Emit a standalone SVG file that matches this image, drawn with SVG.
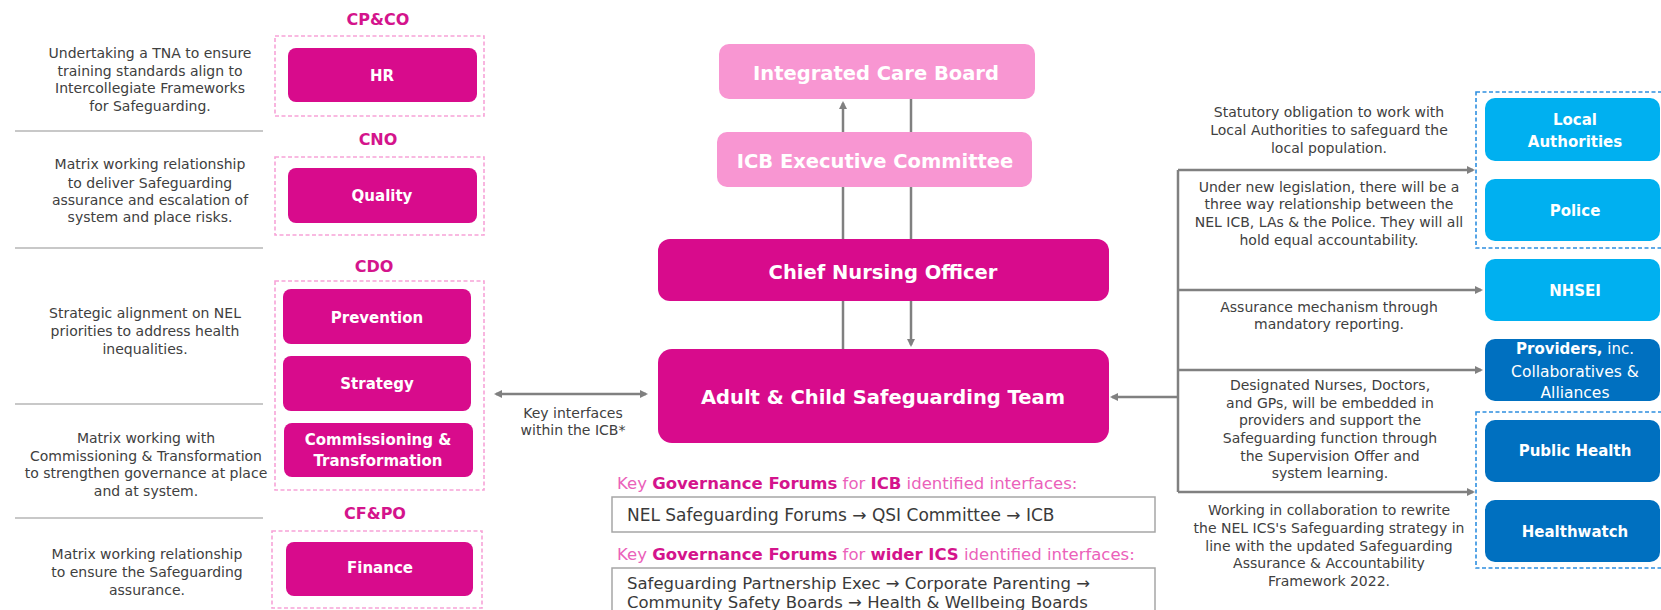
<svg xmlns="http://www.w3.org/2000/svg" width="1661" height="610" viewBox="0 0 1661 610">
<style>
  text { font-family: "DejaVu Sans", "Liberation Sans", sans-serif; }
  .body { font-size: 14px; fill: #404040; text-anchor: middle; }
  .grp { font-size: 16px; font-weight: bold; fill: #D4148C; text-anchor: middle; }
  .lbl { font-size: 15px; font-weight: bold; fill: #ffffff; text-anchor: middle; }
  .lblr { font-size: 15.5px; font-weight: normal; fill: #ffffff; text-anchor: middle; }
  .reg { font-weight: normal; }
  .hdr { font-size: 19.5px; font-weight: bold; fill: #ffffff; text-anchor: middle; }
  .mag { fill: #D80B8C; }
  .pink { fill: #F896D2; }
  .lblue { fill: #00B0F0; }
  .dblue { fill: #0070C0; }
  .pdash { fill: none; stroke: #F7A3D8; stroke-width: 1.6; stroke-dasharray: 4 2.5; }
  .bdash { fill: none; stroke: #2E8FE0; stroke-width: 1.6; stroke-dasharray: 4 2.5; }
  .sep { stroke: #C8C8C8; stroke-width: 2; }
  .con { fill: none; stroke: #808080; stroke-width: 2.5; }
  .gbox { fill: #ffffff; stroke: #A6A6A6; stroke-width: 1.5; }
  .gtxt { font-size: 16.5px; fill: #3A3A3A; }
  .gtxt1 { font-size: 17px; fill: #3A3A3A; }
  .kg { font-size: 16.5px; }
  .kl { fill: #EB61BA; }
  .kb { fill: #D4148C; font-weight: bold; }
</style>
<defs>
  <marker id="ah" viewBox="0 0 8 8" refX="6" refY="4" markerWidth="8" markerHeight="8" markerUnits="userSpaceOnUse" orient="auto-start-reverse">
    <path d="M0,0 L8,4 L0,8 z" fill="#808080"/>
  </marker>
</defs>

<!-- separators on the left -->
<g id="separators">
  <line class="sep" x1="15" y1="131" x2="263" y2="131"/>
  <line class="sep" x1="15" y1="248" x2="263" y2="248"/>
  <line class="sep" x1="15" y1="404" x2="263" y2="404"/>
  <line class="sep" x1="15" y1="518" x2="263" y2="518"/>
</g>

<!-- connectors -->
<g id="connectors">
  <path class="con" d="M843,349 L843,103" marker-end="url(#ah)"/>
  <path class="con" d="M911,99 L911,345" marker-end="url(#ah)"/>
  <path class="con" d="M496,394 L646,394" marker-start="url(#ah)" marker-end="url(#ah)"/>
  <path class="con" d="M1178,170 L1178,492"/>
  <path class="con" d="M1178,397 L1112,397" marker-end="url(#ah)"/>
  <path class="con" d="M1178,170 L1473,170" marker-end="url(#ah)"/>
  <path class="con" d="M1178,290 L1481,290" marker-end="url(#ah)"/>
  <path class="con" d="M1178,370 L1481,370" marker-end="url(#ah)"/>
  <path class="con" d="M1178,492 L1473,492" marker-end="url(#ah)"/>
</g>

<!-- left descriptions -->
<g id="desc-hr">
  <text class="body" x="150" y="58">Undertaking a TNA to ensure</text>
  <text class="body" x="150" y="76">training standards align to</text>
  <text class="body" x="150" y="93">Intercollegiate Frameworks</text>
  <text class="body" x="150" y="111">for Safeguarding.</text>
</g>
<g id="desc-quality">
  <text class="body" x="150" y="169">Matrix working relationship</text>
  <text class="body" x="150" y="188">to deliver Safeguarding</text>
  <text class="body" x="150" y="205">assurance and escalation of</text>
  <text class="body" x="150" y="222">system and place risks.</text>
</g>
<g id="desc-cdo">
  <text class="body" x="145" y="318">Strategic alignment on NEL</text>
  <text class="body" x="145" y="336">priorities to address health</text>
  <text class="body" x="145" y="354">inequalities.</text>
</g>
<g id="desc-ct">
  <text class="body" x="146" y="443">Matrix working with</text>
  <text class="body" x="146" y="461">Commissioning &amp; Transformation</text>
  <text class="body" x="146" y="478">to strengthen governance at place</text>
  <text class="body" x="146" y="496">and at system.</text>
</g>
<g id="desc-finance">
  <text class="body" x="147" y="559">Matrix working relationship</text>
  <text class="body" x="147" y="577">to ensure the Safeguarding</text>
  <text class="body" x="147" y="595">assurance.</text>
</g>

<!-- left groups -->
<g id="group-cpco">
  <text class="grp" x="378" y="25">CP&amp;CO</text>
  <rect class="pdash" x="275" y="36" width="209" height="80"/>
</g>
<g id="node-hr">
  <rect class="mag" x="288" y="48" width="189" height="54" rx="8"/>
  <text class="lbl" x="382" y="81">HR</text>
</g>
<g id="group-cno">
  <text class="grp" x="378" y="145">CNO</text>
  <rect class="pdash" x="275" y="157" width="209" height="78"/>
</g>
<g id="node-quality">
  <rect class="mag" x="288" y="168" width="189" height="55" rx="8"/>
  <text class="lbl" x="382" y="201">Quality</text>
</g>
<g id="group-cdo">
  <text class="grp" x="374" y="272">CDO</text>
  <rect class="pdash" x="275" y="281" width="209" height="209"/>
</g>
<g id="node-prevention">
  <rect class="mag" x="283" y="289" width="188" height="55" rx="8"/>
  <text class="lbl" x="377" y="323">Prevention</text>
</g>
<g id="node-strategy">
  <rect class="mag" x="283" y="356" width="188" height="55" rx="8"/>
  <text class="lbl" x="377" y="389">Strategy</text>
</g>
<g id="node-commissioning">
  <rect class="mag" x="284" y="423" width="189" height="54" rx="8"/>
  <text class="lbl" x="378" y="445">Commissioning &amp;</text>
  <text class="lbl" x="378" y="466">Transformation</text>
</g>
<g id="group-cfpo">
  <text class="grp" x="375" y="519">CF&amp;PO</text>
  <rect class="pdash" x="272" y="531" width="210" height="77"/>
</g>
<g id="node-finance">
  <rect class="mag" x="286" y="542" width="187" height="54" rx="8"/>
  <text class="lbl" x="380" y="573">Finance</text>
</g>

<!-- centre column -->
<g id="node-icb">
  <rect class="pink" x="719" y="44" width="316" height="55" rx="10"/>
  <text class="hdr" x="876" y="80">Integrated Care Board</text>
</g>
<g id="node-icb-exec">
  <rect class="pink" x="717" y="132" width="315" height="55" rx="10"/>
  <text class="hdr" x="875" y="168">ICB Executive Committee</text>
</g>
<g id="node-cno">
  <rect class="mag" x="658" y="239" width="451" height="62" rx="12"/>
  <text class="hdr" x="883" y="279">Chief Nursing Officer</text>
</g>
<g id="node-team">
  <rect class="mag" x="658" y="349" width="451" height="94" rx="14"/>
  <text class="hdr" x="883" y="404">Adult &amp; Child Safeguarding Team</text>
</g>
<g id="label-key-interfaces">
  <text class="body" x="573" y="418">Key interfaces</text>
  <text class="body" x="573" y="435">within the ICB*</text>
</g>

<!-- governance forums -->
<g id="forums-icb">
  <text class="kg" x="617" y="489"><tspan class="kl">Key </tspan><tspan class="kb">Governance Forums</tspan><tspan class="kl"> for </tspan><tspan class="kb">ICB</tspan><tspan class="kl"> identified interfaces:</tspan></text>
  <rect class="gbox" x="612" y="497" width="543" height="35"/>
  <text class="gtxt1" x="627" y="521">NEL Safeguarding Forums → QSI Committee → ICB</text>
</g>
<g id="forums-ics">
  <text class="kg" x="617" y="560"><tspan class="kl">Key </tspan><tspan class="kb">Governance Forums</tspan><tspan class="kl"> for </tspan><tspan class="kb">wider ICS</tspan><tspan class="kl"> identified interfaces:</tspan></text>
  <rect class="gbox" x="612" y="568" width="543" height="60"/>
  <text class="gtxt" x="627" y="589">Safeguarding Partnership Exec → Corporate Parenting →</text>
  <text class="gtxt" x="627" y="608">Community Safety Boards → Health &amp; Wellbeing Boards</text>
</g>

<!-- right descriptions -->
<g id="desc-statutory">
  <text class="body" x="1329" y="117">Statutory obligation to work with</text>
  <text class="body" x="1329" y="135">Local Authorities to safeguard the</text>
  <text class="body" x="1329" y="153">local population.</text>
</g>
<g id="desc-legislation">
  <text class="body" x="1329" y="192">Under new legislation, there will be a</text>
  <text class="body" x="1329" y="209">three way relationship between the</text>
  <text class="body" x="1329" y="227">NEL ICB, LAs &amp; the Police. They will all</text>
  <text class="body" x="1329" y="245">hold equal accountability.</text>
</g>
<g id="desc-assurance">
  <text class="body" x="1329" y="312">Assurance mechanism through</text>
  <text class="body" x="1329" y="329">mandatory reporting.</text>
</g>
<g id="desc-designated">
  <text class="body" x="1330" y="390">Designated Nurses, Doctors,</text>
  <text class="body" x="1330" y="408">and GPs, will be embedded in</text>
  <text class="body" x="1330" y="425">providers and support the</text>
  <text class="body" x="1330" y="443">Safeguarding function through</text>
  <text class="body" x="1330" y="461">the Supervision Offer and</text>
  <text class="body" x="1330" y="478">system learning.</text>
</g>
<g id="desc-working">
  <text class="body" x="1329" y="515">Working in collaboration to rewrite</text>
  <text class="body" x="1329" y="533">the NEL ICS's Safeguarding strategy in</text>
  <text class="body" x="1329" y="551">line with the updated Safeguarding</text>
  <text class="body" x="1329" y="568">Assurance &amp; Accountability</text>
  <text class="body" x="1329" y="586">Framework 2022.</text>
</g>

<!-- right groups -->
<g id="group-la-police">
  <rect class="bdash" x="1476" y="92" width="200" height="156"/>
</g>
<g id="node-local-authorities">
  <rect class="lblue" x="1485" y="98" width="175" height="63" rx="10"/>
  <text class="lbl" x="1575" y="125">Local</text>
  <text class="lbl" x="1575" y="147">Authorities</text>
</g>
<g id="node-police">
  <rect class="lblue" x="1485" y="179" width="175" height="62" rx="10"/>
  <text class="lbl" x="1575" y="216">Police</text>
</g>
<g id="node-nhsei">
  <rect class="lblue" x="1485" y="259" width="175" height="62" rx="10"/>
  <text class="lbl" x="1575" y="296">NHSEI</text>
</g>
<g id="node-providers">
  <rect class="dblue" x="1485" y="339" width="175" height="62" rx="10"/>
  <text class="lbl" x="1575" y="354">Providers,<tspan class="reg"> inc.</tspan></text>
  <text class="lblr" x="1575" y="377">Collaboratives &amp;</text>
  <text class="lblr" x="1575" y="398">Alliances</text>
</g>
<g id="group-ph-hw">
  <rect class="bdash" x="1476" y="412" width="200" height="156"/>
</g>
<g id="node-public-health">
  <rect class="dblue" x="1485" y="420" width="175" height="62" rx="10"/>
  <text class="lbl" x="1575" y="456">Public Health</text>
</g>
<g id="node-healthwatch">
  <rect class="dblue" x="1485" y="500" width="175" height="62" rx="10"/>
  <text class="lbl" x="1575" y="537">Healthwatch</text>
</g>
</svg>
